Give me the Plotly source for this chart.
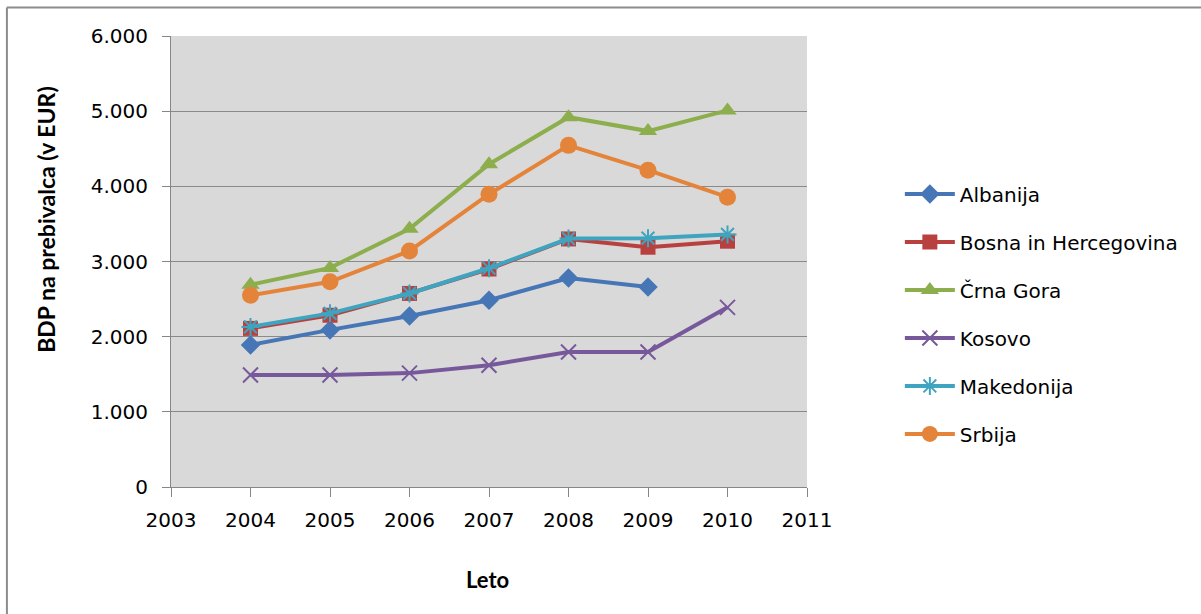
import plotly.graph_objects as go

years = [2004, 2005, 2006, 2007, 2008, 2009, 2010]
albanija = [1890, 2090, 2275, 2485, 2780, 2660, None]
bosna = [2110, 2285, 2575, 2900, 3300, 3190, 3270]
crna_gora = [2690, 2915, 3435, 4295, 4920, 4735, 5010]
kosovo = [1490, 1490, 1515, 1620, 1795, 1795, 2390]
makedonija = [2130, 2310, 2575, 2910, 3305, 3310, 3360]
srbija = [2550, 2730, 3140, 3895, 4545, 4215, 3855]

series_names = ["Albanija", "Bosna in Hercegovina", "Črna Gora", "Kosovo", "Makedonija", "Srbija"]
series_values = [albanija, bosna, crna_gora, kosovo, makedonija, srbija]
colors = ["#4676B5", "#B8413F", "#8DAE4C", "#77599B", "#3FA4BF", "#E4843A"]
symbols = ["diamond", "square", "triangle-up", "x-thin", "asterisk", "circle"]
sizes = [15, 15, 16, 15, 15, 17]

y_tickvals = [0, 1000, 2000, 3000, 4000, 5000, 6000]
y_ticktext = ["0", "1.000", "2.000", "3.000", "4.000", "5.000", "6.000"]
x_tickvals = [2003, 2004, 2005, 2006, 2007, 2008, 2009, 2010, 2011]

FONT = "DejaVu Sans"
TFONT = "Lato"

fig = go.Figure()
for i, (name, vals) in enumerate(zip(series_names, series_values)):
    thin = symbols[i] in ("x-thin", "asterisk")
    fig.add_trace(go.Scatter(
        x=years, y=vals, name=name, mode="lines+markers",
        legendgroup=f"g{i}",
        line=dict(color=colors[i], width=4),
        marker=dict(symbol=symbols[i], size=sizes[i], color=colors[i],
                    line=dict(color=colors[i], width=2 if thin else 0)),
        connectgaps=False,
    ))

fig.update_layout(
    width=1201, height=614,
    margin=dict(l=171, r=394, t=36, b=127),
    paper_bgcolor="white",
    plot_bgcolor="#D9D9D9",
    font=dict(family=FONT, size=18, color="#000000"),
    showlegend=True,
    legend=dict(x=1.146, xanchor="left", y=0.693, yanchor="top",
                font=dict(family=FONT, size=20, color="#000000"),
                tracegroupgap=19, itemwidth=50,
                bgcolor="rgba(0,0,0,0)"),
    xaxis=dict(range=[2003, 2011], tickvals=x_tickvals, showgrid=False,
               ticks="outside", ticklen=9, tickcolor="#868686",
               showline=True, linecolor="#868686", linewidth=1,
               tickfont=dict(family=FONT, size=20), zeroline=False,
               ticklabelstandoff=6),
    yaxis=dict(range=[0, 6000], tickvals=y_tickvals, ticktext=y_ticktext,
               showgrid=True, gridcolor="#8A8A8A", gridwidth=1,
               ticks="outside", ticklen=8, tickcolor="#868686",
               showline=True, linecolor="#868686", linewidth=1,
               tickfont=dict(family=FONT, size=20), zeroline=False,
               ticklabelstandoff=10),
    annotations=[
        dict(text="<b>BDP na prebivalca (v EUR)</b>", textangle=-90,
             xref="paper", yref="paper", x=-0.197, y=0.594,
             xanchor="center", yanchor="middle",
             showarrow=False, font=dict(family=TFONT, size=23)),
        dict(text="<b>Leto</b>", xref="paper", yref="paper", x=0.498, y=-0.206,
             xanchor="center", yanchor="middle",
             showarrow=False, font=dict(family=TFONT, size=22)),
    ],
    shapes=[
        dict(type="line", xref="paper", yref="paper", x0=-0.258, x1=1.62,
             y0=1.063, y1=1.063, line=dict(color="#8C8C8C", width=2)),
        dict(type="line", xref="paper", yref="paper", x0=-0.258, x1=-0.258,
             y0=1.063, y1=-0.3, line=dict(color="#8C8C8C", width=2)),
    ],
)

fig.write_html("out.html")
